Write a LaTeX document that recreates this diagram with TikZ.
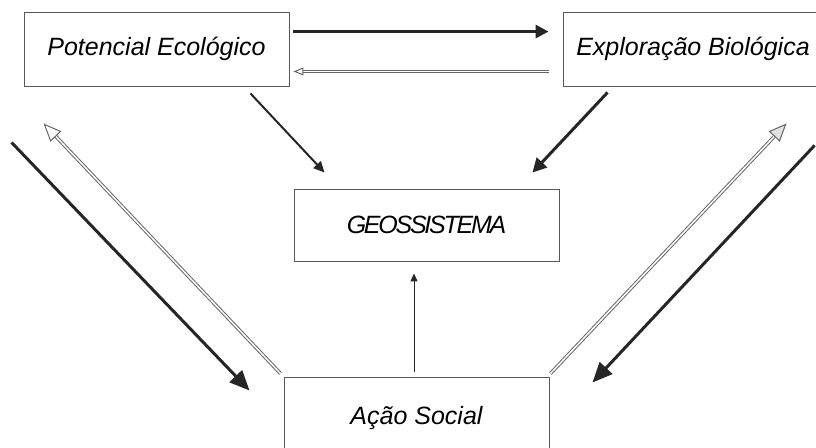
\documentclass[tikz,border=0pt]{standalone}
\usepackage{fontspec}
\setmainfont{Liberation Sans}
\usetikzlibrary{arrows.meta, calc}

\begin{document}
\begin{tikzpicture}[x=1pt, y=-1pt]

\tikzset{box/.style = {shape=rectangle, draw=black!65, line width=0.9pt, minimum width=265pt, minimum height=74pt, font=\fontsize{25}{30}\selectfont\itshape}}
\tikzset{heavy/.style = {draw=black!85, line width=3pt, -{Triangle[length=20pt,width=17pt]}}}
\tikzset{light/.style = {draw=black!85, line width=2pt, -{Triangle[length=11pt,width=10pt]}}}
\tikzset{hollow/.style = {draw=black!60, line width=1pt, double=white, double distance=1.5pt, -{Triangle[open,length=18pt,width=15pt]}}}

\useasboundingbox (0,0) rectangle (816,447);
\clip (0,0) rectangle (816,447);
% boxes
\node[box] (pot) at (156.5,49) {Potencial Ecológico};
\node[box, minimum width=260pt] (expl) at (693,49) {Exploração Biológica};
\node[box, minimum height=72pt] (geo) at (426.5,225) {\addfontfeature{LetterSpace=-9}GEOSSISTEMA};
\node[box, minimum height=82pt] (acao) at (416.5,418) {Ação Social};
% arrows
\draw[heavy, -{Triangle[length=13pt,width=13pt]}] ($(pot.north east)+(4,20)$) -- ($(expl.north west)+(-14,20)$);
\draw[hollow, -{Triangle[open,length=10pt,width=8pt]}] ($(expl.south west)+(-14,-15)$) -- ($(pot.south east)+(4,-15)$);
\draw[light] ($(pot.south east)+(-39,7)$) -- ($(geo.north west)+(31,-16)$);
\draw[heavy, -{Triangle[length=14pt,width=14pt]}] ($(expl.south west)+(45,6)$) -- ($(geo.north east)+(-27,-16)$);
\draw[draw=black!85, line width=1pt, -{Triangle[length=8pt,width=7pt]}] ($(acao.north)+(-2.5,-5)$) -- ($(geo.south)+(-12.5,12)$);
% sides
\draw[heavy] ($(pot.south west)+(-12,56)$) -- ($(acao.north west)+(-34,14)$);
\draw[hollow] ($(acao.north west)+(-3,-3)$) -- ($(pot.south west)+(20,37)$);
\draw[hollow, -{Triangle[open,fill=black!12,length=18pt,width=15pt]}] ($(acao.north east)+(1,-3)$) -- ($(expl.south west)+(224,37)$);
\draw[heavy] ($(expl.south west)+(252,59)$) -- ($(acao.north east)+(43,6)$);

\end{tikzpicture}
\end{document}
